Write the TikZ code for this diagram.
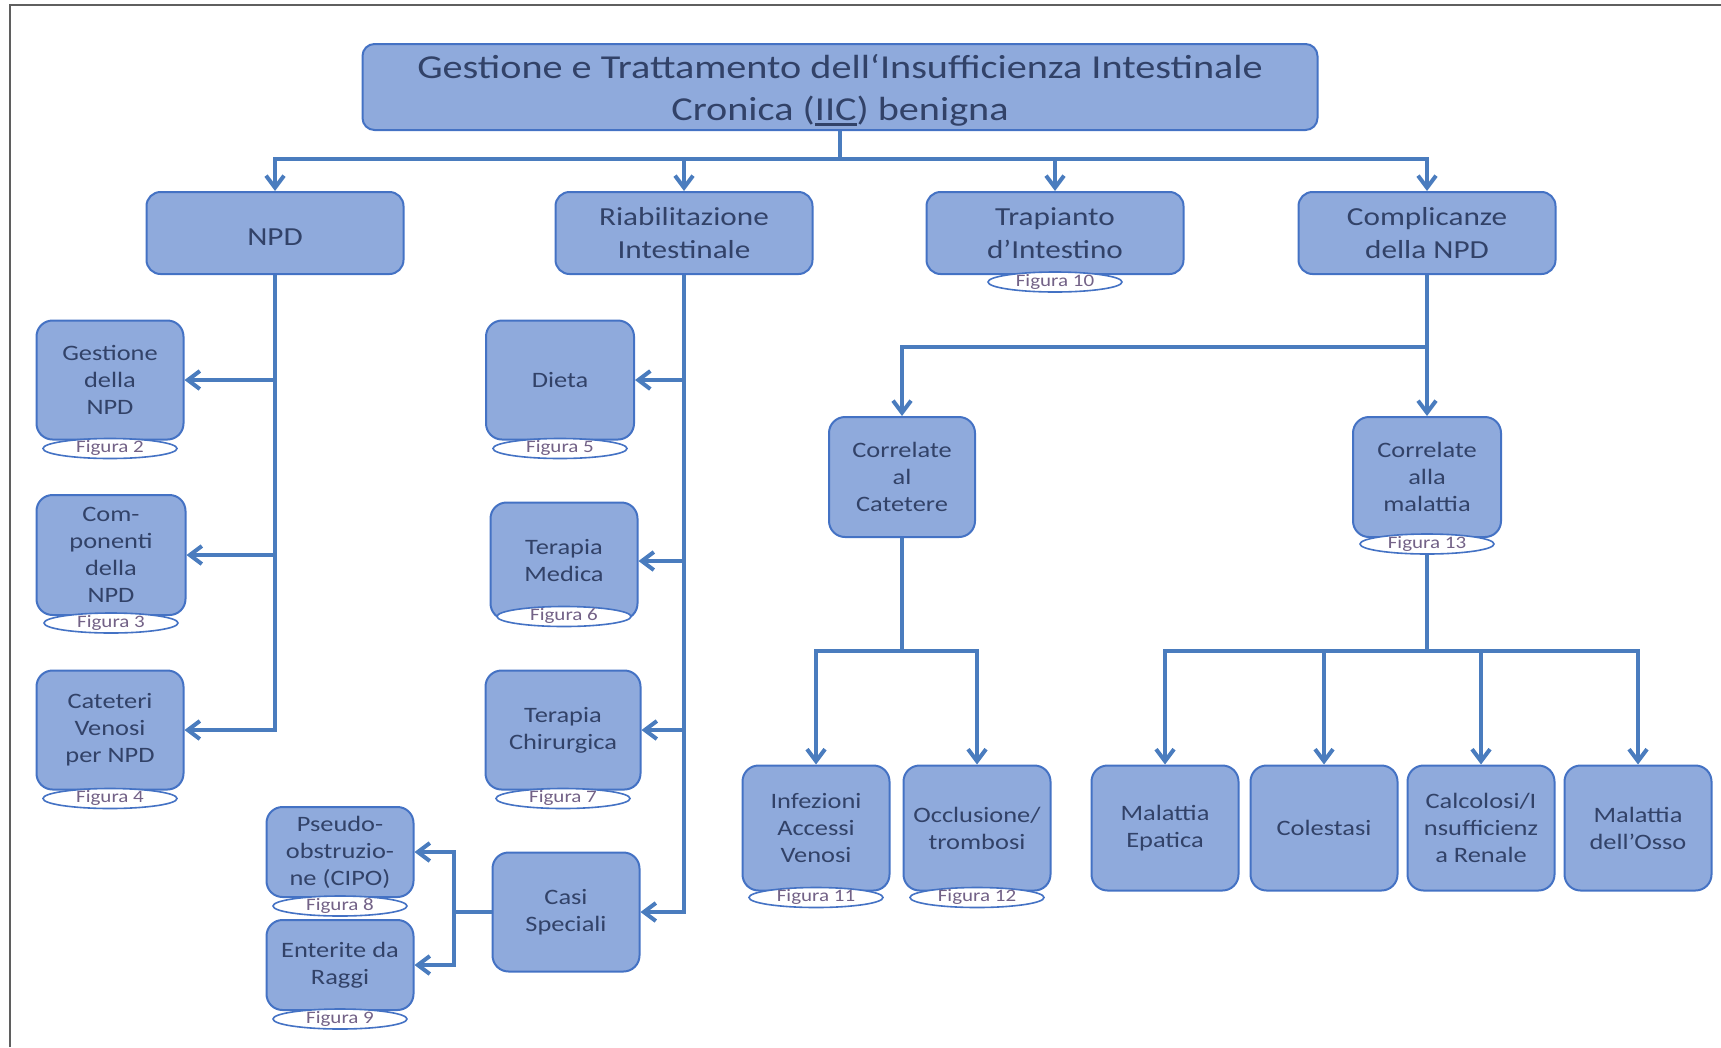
\documentclass[tikz,border=0pt]{standalone}
\usepackage{fontspec}
\setmainfont{Carlito}[FakeStretch=1.2]
\usepackage{tikz}
\usetikzlibrary{shapes.geometric, arrows.meta, positioning, calc}
\definecolor{cFill}{RGB}{143,170,220}
\definecolor{cEdge}{RGB}{68,114,196}
\definecolor{cLink}{RGB}{74,124,190}
\definecolor{cText}{RGB}{50,66,104}
\definecolor{cFig}{RGB}{115,98,135}
\definecolor{cFrame}{RGB}{95,95,95}
\newcommand{\undl}[1]{\setbox0\hbox{#1}\rlap{\rule[-5pt]{\wd0}{2.5pt}}\box0}
\tikzset{
	headbox/.style={rectangle, rounded corners=12pt, draw=cEdge, line width=2pt, fill=cFill, text=cText, align=center, minimum width=955pt, minimum height=86pt, font=\fontsize{33.5}{42}\selectfont},
	topbox/.style ={rectangle, rounded corners=14pt, draw=cEdge, line width=2pt, fill=cFill, text=cText, align=center, minimum width=257pt, minimum height=82pt, font=\fontsize{26}{33}\selectfont, execute at begin node=\rule{0pt}{24pt}},
	leaf/.style   ={rectangle, rounded corners=16pt, draw=cEdge, line width=2pt, fill=cFill, text=cText, align=center, minimum width=147pt, minimum height=119pt, inner sep=2pt, font=\fontsize{22}{27}\selectfont},
	% figure tags under the boxes
	figtag/.style ={ellipse, draw=cEdge, line width=1.6pt, fill=white, text=cFig, minimum width=134pt, minimum height=20pt, inner sep=0pt, text height=9pt, text depth=1pt, font=\fontsize{17.5}{17.5}\selectfont},
	link/.style   ={line width=4pt, draw=cLink},
	linkarrow/.style={link, -{Straight Barb[length=12pt, width=18pt]}},
}
\begin{document}
\begin{tikzpicture}[x=1pt, y=-1pt]
	\useasboundingbox (0,0) rectangle (1721,1047);
	\draw[cFrame, line width=2.5pt] (10,1047) -- (10,5) -- (1721,5);

	\node[headbox] (tit) at (840,87) {\rule{0pt}{31pt}Gestione e Trattamento dell‘Insufficienza Intestinale\\ Cronica (\undl{IIC}) benigna};

	\node[topbox] (npd)   at (275,233)  {NPD};
	\node[topbox] (riab)  at (684,233)  {Riabilitazione\\ Intestinale};
	\node[topbox] (trap)  at (1055,233) {Trapianto\\ d’Intestino};
	\node[topbox] (compl) at (1427,233) {Complicanze\\ della NPD};

	\node[leaf] (gest) at (110,380) {Gestione\\ della\\ NPD};
	\node[leaf, minimum width=149pt, minimum height=120pt] (comp) at (111,555) {Com-\\ ponenti\\ della\\ NPD};
	\node[leaf] (cat)  at (110,730) {Cateteri\\ Venosi\\ per NPD};

	\node[leaf, minimum width=148pt] (dieta) at (560,380) {Dieta};
	\node[leaf, minimum height=117pt] (tmed) at (564,561) {Terapia\\ Medica};
	\node[leaf, minimum width=155pt] (tchir) at (563,730) {Terapia\\ Chirurgica};
	\node[leaf] (casi) at (566,912) {Casi\\ Speciali};
	\node[leaf, minimum height=90pt] (pseudo) at (340,852) {Pseudo-\\ obstruzio-\\ ne (CIPO)};
	\node[leaf, minimum height=90pt] (enter)  at (340,965) {Enterite da\\ Raggi};

	\node[leaf, minimum width=146pt, minimum height=120pt] (corrcat) at (902,477)  {Correlate\\ al\\ Catetere};
	\node[leaf, minimum width=148pt, minimum height=120pt] (corrmal) at (1427,477) {Correlate\\ alla\\ malattia};

	\node[leaf, minimum height=125pt] (infez) at (816,828)  {Infezioni\\ Accessi\\ Venosi};
	\node[leaf, minimum height=125pt] (occl)  at (977,828)  {Occlusione/\\ trombosi};
	\node[leaf, minimum height=125pt] (mepat) at (1165,828) {Malattia\\ Epatica};
	\node[leaf, minimum height=125pt] (coles) at (1324,828) {Colestasi};
	\node[leaf, minimum height=125pt] (calc)  at (1481,828) {Calcolosi/I\\ nsufficienz\\ a Renale};
	\node[leaf, minimum height=125pt] (mosso) at (1638,828) {Malattia\\ dell’Osso};

	\node[figtag] (f2)  at ([yshift=-8pt]gest.south)   {Figura 2};
	\node[figtag] (f3)  at ([yshift=-7pt]comp.south)   {Figura 3};
	\node[figtag] (f4)  at ([yshift=-8pt]cat.south)    {Figura 4};
	\node[figtag] (f5)  at ([yshift=-8pt]dieta.south)  {Figura 5};
	\node[figtag] (f6)  at ([yshift=4pt]tmed.south)    {Figura 6};
	\node[figtag] (f7)  at ([yshift=-8pt]tchir.south)  {Figura 7};
	\node[figtag] (f8)  at ([yshift=-8pt]pseudo.south) {Figura 8};
	\node[figtag] (f9)  at ([yshift=-8pt]enter.south)  {Figura 9};
	\node[figtag] (f10) at ([yshift=-7pt]trap.south)   {Figura 10};
	\node[figtag] (f11) at ([yshift=-6pt]infez.south)  {Figura 11};
	\node[figtag] (f12) at ([yshift=-6pt]occl.south)   {Figura 12};
	\node[figtag] (f13) at ([yshift=-6pt]corrmal.south) {Figura 13};

	\coordinate (hub) at (840,159);
	\coordinate (cJ)  at (1427,347);
	\coordinate (kJ)  at (902,651);
	\coordinate (mJ)  at (1427,651);
	\coordinate (sJ)  at (454,912);

	\foreach \t in {npd, riab, trap, compl}
		\draw[linkarrow] (tit.south) -- (hub) -| (\t.north);
	\foreach \t in {gest, comp, cat}
		\draw[linkarrow] (npd.south) |- (\t.east);
	\foreach \t in {dieta, tmed, tchir, casi}
		\draw[linkarrow] (riab.south) |- (\t.east);
	\foreach \t in {pseudo, enter}
		\draw[linkarrow] (casi.west) -- (sJ) |- (\t.east);
	\draw[linkarrow] (compl.south) -- (cJ) -| (corrcat.north);
	\draw[linkarrow] (compl.south) -- (corrmal.north);
	\foreach \t in {infez, occl}
		\draw[linkarrow] (corrcat.south) -- (kJ) -| (\t.north);
	\foreach \t in {mepat, coles, calc, mosso}
		\draw[linkarrow] (f13.south) -- (mJ) -| (\t.north);
\end{tikzpicture}
\end{document}
